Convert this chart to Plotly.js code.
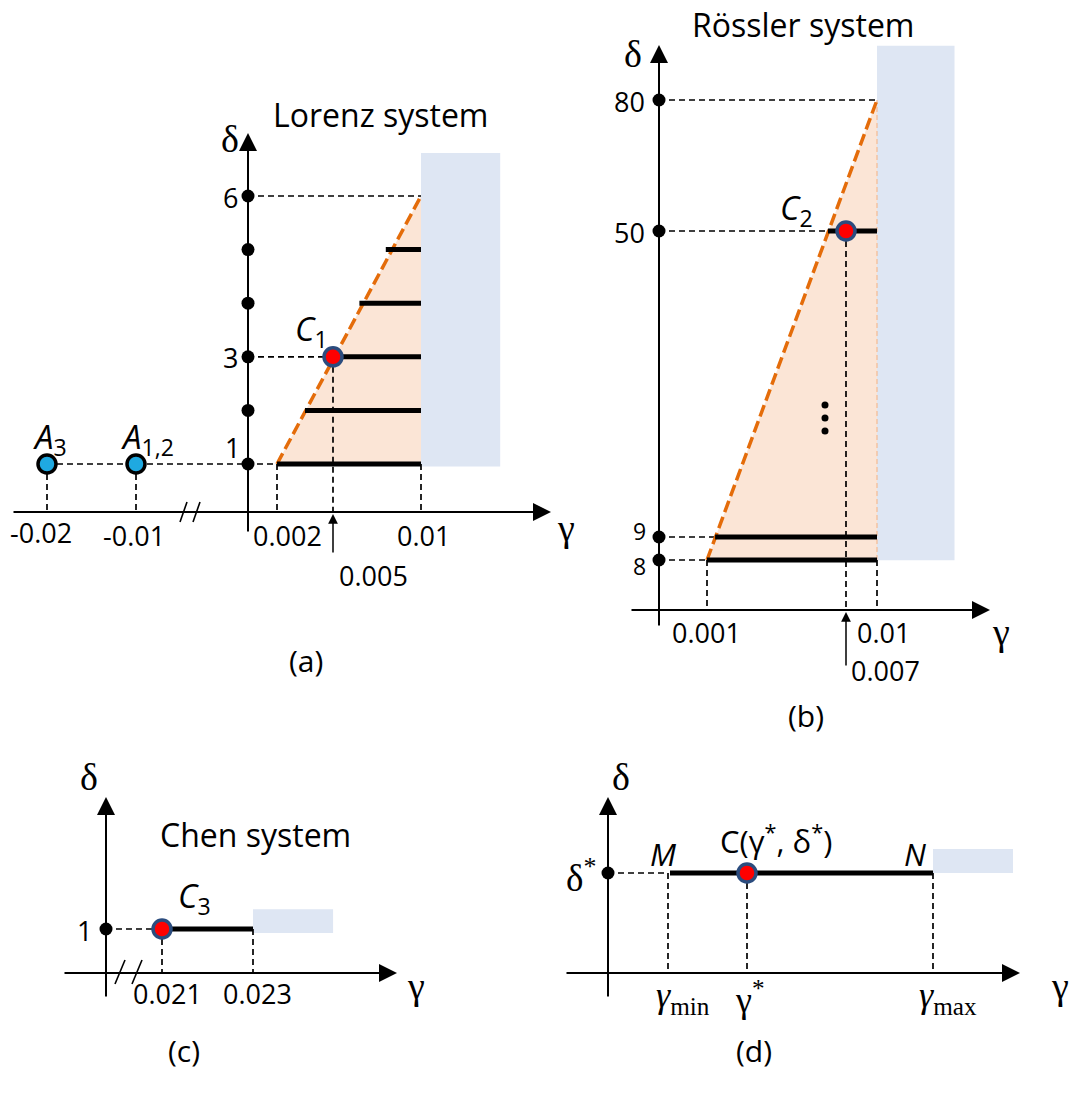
<!DOCTYPE html>
<html><head><meta charset="utf-8">
<script src="https://cdn.plot.ly/plotly-3.0.1.min.js"></script>
<style>html,body{margin:0;padding:0;background:#fff}</style>
</head><body><div id="chart" style="width:1086px;height:1106px"></div>
<script>
// ================= DATA =================
// (a) Lorenz system
const lorenzDeltaDots      = [1, 2, 3, 4, 5, 6];
const lorenzDeltaTicks     = [1, 3, 6];
const lorenzGammaTicks     = [-0.02, -0.01, 0.002, 0.01];
const lorenzGammaMarked    = [0.005];
const lorenzBarDelta       = [1, 2, 3, 4, 5];
const lorenzBarGammaStart  = [0.002, 0.0035, 0.005, 0.0065, 0.008];
const lorenzBarGammaEnd    = [0.01, 0.01, 0.01, 0.01, 0.01];
const lorenzBorderGamma    = [0.002, 0.01];
const lorenzBorderDelta    = [1, 6];
const lorenzEqGamma        = [-0.02, -0.01];
const lorenzEqDelta        = [1, 1];
const lorenzEqLabels       = ['A<sub>3</sub>', 'A<sub>1,2</sub>'];
const lorenzChaosGamma     = [0.005];
const lorenzChaosDelta     = [3];
const lorenzUnstableGamma  = [0.01, 0.0145];
const lorenzUnstableDelta  = [0.95, 6.8];

// (b) Rössler system
const rosslerDeltaTicks    = [8, 9, 50, 80];
const rosslerGammaTicks    = [0.001, 0.01];
const rosslerGammaMarked   = [0.007];
const rosslerBarDelta      = [8, 9, 50];
const rosslerBarGammaStart = [0.001, 0.00135, 0.00622];
const rosslerBarGammaEnd   = [0.01, 0.01, 0.01];
const rosslerBorderGamma   = [0.001, 0.01];
const rosslerBorderDelta   = [8, 80];
const rosslerChaosGamma    = [0.007];
const rosslerChaosDelta    = [50];
const rosslerUnstableGamma = [0.01, 0.0175];
const rosslerUnstableDelta = [7.95, 92.4];

// (c) Chen system
const chenDeltaTicks       = [1];
const chenGammaTicks       = [0.021, 0.023];
const chenBarGamma         = [0.021, 0.023];
const chenBarDelta         = [1];
const chenChaosGamma       = [0.021];
const chenChaosDelta       = [1];
const chenUnstableGamma    = [0.023, 0.02476];
const chenUnstableDelta    = [0.91, 1.45];

// (d) general scheme (symbolic, ordinal positions on the γ axis)
const genGammaOrder        = [1, 2, 3];
const genGammaLabels       = ['<i>γ</i><sub>min</sub>', 'γ<sup>*</sup>', '<i>γ</i><sub>max</sub>'];
const genDeltaTicks        = [1];
const genDeltaLabels       = ['δ<sup>*</sup>'];
const genBarGamma          = [1, 3];
const genChaosGamma        = [2];
const genUnstableGamma     = [3, 3.43];
const genUnstableDelta     = [1, 1.24];

// ================= GEOMETRY (schematic axis scales, px) =================
const GEOM = {
  a: {gv:[-0.02,-0.01,0,0.002,0.005,0.01], gp:[47,136,248,277,333,421], dv:[0,1,6], dp:[512,464,196],
      xAxis:[12,551], yAxis:[533,133], breaks:[[180,522,187,502],[193,522,200,502]]},
  b: {gv:[0,0.001,0.007,0.01], gp:[659,707,846,877], dv:[0,8,9,50,80], dp:[610,560,537,231,100],
      xAxis:[630,990], yAxis:[627,45], breaks:[]},
  c: {gv:[0,0.021,0.023], gp:[106,162,253], dv:[0,1], dp:[973,929],
      xAxis:[63,397], yAxis:[998,797], breaks:[[115,984,125,960],[132,984,142,960]]},
  d: {gv:[0,1,2,3], gp:[608,668,747,933], dv:[0,1], dp:[973,873],
      xAxis:[565,1020], yAxis:[998,797], breaks:[]}
};
const FONT = 'Open Sans, Lato, sans-serif';
const SERIF = 'Liberation Serif, DejaVu Serif, serif';
const ORANGE = '#E46C0A', PEACH = '#FBE5D6', ICE = '#DEE6F3', CYAN = '#1FA9E1', NAVY = '#2B4C7E';

function pw(v, p) {
  return function (x) {
    const n = v.length; let i = 0;
    if (x >= v[n - 1]) i = n - 2;
    else if (x > v[0]) { while (x > v[i + 1]) i++; }
    const t = (x - v[i]) / (v[i + 1] - v[i]);
    return p[i] + t * (p[i + 1] - p[i]);
  };
}
const S = {};
for (const k in GEOM) S[k] = {g: pw(GEOM[k].gv, GEOM[k].gp), d: pw(GEOM[k].dv, GEOM[k].dp)};

const traces = [], ann = [];
function line(xs, ys, color, width, dash) {
  traces.push({type:'scatter', mode:'lines', x:xs, y:ys, hoverinfo:'skip', showlegend:false,
    line:{color:color, width:width, dash:dash || 'solid'}});
}
function poly(xs, ys, color) {
  traces.push({type:'scatter', mode:'lines', x:xs, y:ys, fill:'toself', fillcolor:color, hoverinfo:'skip',
    showlegend:false, line:{width:0, color:color}});
}
function dots(xs, ys, size, color, lc, lw) {
  traces.push({type:'scatter', mode:'markers', x:xs, y:ys, hoverinfo:'skip', showlegend:false,
    marker:{size:size, color:color, line:{color:lc || color, width:lw || 0}}});
}
function txt(x, y, text, size, opt) {
  opt = opt || {};
  ann.push(Object.assign({x:x, y:y, xref:'x', yref:'y', text:text, showarrow:false,
    xanchor:'center', yanchor:'middle', font:{family:opt.family || FONT, size:size, color:'#000'}}, opt.extra || {}));
}
function arrow(x0, y0, x1, y1, w, size) {
  ann.push({x:x1, y:y1, ax:x0, ay:y0, xref:'x', yref:'y', axref:'x', ayref:'y', text:'', showarrow:true,
    arrowhead:2, arrowsize:size, arrowwidth:w, arrowcolor:'#000', standoff:0, startstandoff:0});
}
function axes(k) {
  const G = GEOM[k], s = S[k], y0 = s.d(0), x0 = s.g(0);
  arrow(G.xAxis[0], y0, G.xAxis[1], y0, 2, 1.8);
  arrow(x0, G.yAxis[0], x0, G.yAxis[1], 2, 1.8);
  G.breaks.forEach(b => line([b[0], b[2]], [b[1], b[3]], '#000', 1.6));
}
const DASH = '6px,4px';
const DW = 1.7;

// ---------------- (a) Lorenz ----------------
(function () {
  const g = S.a.g, d = S.a.d;
  poly([g(lorenzBorderGamma[0]), g(lorenzBorderGamma[1]), g(lorenzBorderGamma[1]), g(lorenzBorderGamma[0])],
       [d(lorenzBorderDelta[0]), d(lorenzBorderDelta[1]), d(lorenzBorderDelta[0]), d(lorenzBorderDelta[0])], PEACH);
  poly([g(lorenzUnstableGamma[0]), g(lorenzUnstableGamma[1]), g(lorenzUnstableGamma[1]), g(lorenzUnstableGamma[0]), g(lorenzUnstableGamma[0])],
       [d(lorenzUnstableDelta[0]), d(lorenzUnstableDelta[0]), d(lorenzUnstableDelta[1]), d(lorenzUnstableDelta[1]), d(lorenzUnstableDelta[0])], ICE);
  line([g(0), g(lorenzBorderGamma[1])], [d(6), d(6)], '#000', DW, DASH);
  line([g(0), g(lorenzChaosGamma[0])], [d(lorenzChaosDelta[0]), d(lorenzChaosDelta[0])], '#000', DW, DASH);
  line([g(lorenzEqGamma[0]), g(lorenzBorderGamma[0])], [d(1), d(1)], '#000', DW, DASH);
  lorenzEqGamma.concat([lorenzBorderGamma[0], lorenzBorderGamma[1]]).forEach(v =>
    line([g(v), g(v)], [d(1), d(0)], '#000', DW, DASH));
  line([g(lorenzChaosGamma[0]), g(lorenzChaosGamma[0])], [d(lorenzChaosDelta[0]), d(0)], '#000', DW, DASH);
  line([g(lorenzBorderGamma[0]), g(lorenzBorderGamma[1])], [d(lorenzBorderDelta[0]), d(lorenzBorderDelta[1])], ORANGE, 3.5, '12px,5px');
  lorenzBarDelta.forEach((dv, i) => line([g(lorenzBarGammaStart[i]), g(lorenzBarGammaEnd[i])], [d(dv), d(dv)], '#000', 5));
  axes('a');
  dots(lorenzDeltaDots.map(() => g(0)), lorenzDeltaDots.map(d), 13, '#000');
  dots(lorenzEqGamma.map(g), lorenzEqDelta.map(d), 18, CYAN, '#000', 3.5);
  dots(lorenzChaosGamma.map(g), lorenzChaosDelta.map(d), 18, '#FF0000', NAVY, 3.5);
  txt(380, 114, 'Lorenz system', 32);
  txt(g(0) - 18, 139, 'δ', 38, {family:SERIF});
  const dOff = {1:[-16,-17], 3:[-18,1], 6:[-18,1]};
  lorenzDeltaTicks.forEach(v => txt(g(0) + dOff[v][0], d(v) + dOff[v][1], String(v), 27));
  const gOff = {'-0.02':[-6,20], '-0.01':[-2,23], '0.002':[10,23], '0.01':[2,23]};
  lorenzGammaTicks.forEach(v => txt(g(v) + gOff[String(v)][0], d(0) + gOff[String(v)][1], String(v), 27));
  lorenzGammaMarked.forEach(v => {
    arrow(g(v), d(0) + 42, g(v), d(0) + 2, 1.5, 1.3);
    txt(g(v) + 4, d(0) + 63, String(v), 27, {extra:{xanchor:'left'}});
  });
  txt(g(lorenzChaosGamma[0]) - 22, d(lorenzChaosDelta[0]) - 26, '<i>C</i><sub>1</sub>', 33);
  lorenzEqGamma.forEach((v, i) => txt(g(v) + (i ? 11 : 3), d(1) - 26, '<i>' + lorenzEqLabels[i].replace('<sub>', '</i><sub>'), 33));
  txt(566, 528, 'γ', 38, {family:SERIF});
  txt(306, 660, '(a)', 30);
})();

// ---------------- (b) Rössler ----------------
(function () {
  const g = S.b.g, d = S.b.d;
  poly([g(rosslerBorderGamma[0]), g(rosslerBorderGamma[1]), g(rosslerBorderGamma[1]), g(rosslerBorderGamma[0])],
       [d(rosslerBorderDelta[0]), d(rosslerBorderDelta[1]), d(rosslerBorderDelta[0]), d(rosslerBorderDelta[0])], PEACH);
  poly([g(rosslerUnstableGamma[0]), g(rosslerUnstableGamma[1]), g(rosslerUnstableGamma[1]), g(rosslerUnstableGamma[0]), g(rosslerUnstableGamma[0])],
       [d(rosslerUnstableDelta[0]), d(rosslerUnstableDelta[0]), d(rosslerUnstableDelta[1]), d(rosslerUnstableDelta[1]), d(rosslerUnstableDelta[0])], ICE);
  line([g(rosslerBorderGamma[1]), g(rosslerBorderGamma[1])], [d(rosslerBorderDelta[0]), d(rosslerBorderDelta[1])], '#F4B183', 1, '5px,3px');
  line([g(0), g(rosslerBorderGamma[1])], [d(80), d(80)], '#000', DW, DASH);
  rosslerBarDelta.forEach((dv, i) => line([g(0), g(rosslerBarGammaStart[i])], [d(dv), d(dv)], '#000', DW, DASH));
  rosslerGammaTicks.forEach(v => line([g(v), g(v)], [d(8), d(0)], '#000', DW, DASH));
  line([g(rosslerChaosGamma[0]), g(rosslerChaosGamma[0])], [d(rosslerChaosDelta[0]), d(0)], '#000', DW, DASH);
  line([g(rosslerBorderGamma[0]), g(rosslerBorderGamma[1])], [d(rosslerBorderDelta[0]), d(rosslerBorderDelta[1])], ORANGE, 3.5, '12px,5px');
  rosslerBarDelta.forEach((dv, i) => line([g(rosslerBarGammaStart[i]), g(rosslerBarGammaEnd[i])], [d(dv), d(dv)], '#000', 5));
  axes('b');
  dots(rosslerDeltaTicks.map(() => g(0)), rosslerDeltaTicks.map(d), 13, '#000');
  dots(rosslerChaosGamma.map(g), rosslerChaosDelta.map(d), 18, '#FF0000', NAVY, 3.5);
  txt(803, 24, 'Rössler system', 32);
  txt(g(0) - 26, 54, 'δ', 38, {family:SERIF});
  // tightly stacked labels 9 / 8 are anchored away from each other so their boxes do not overlap
  const yMid = (d(8) + d(9)) / 2;
  rosslerDeltaTicks.forEach(v => {
    if (v === 9) txt(g(0) - 12, yMid - 0.5, String(v), 23, {extra:{xanchor:'right', yanchor:'bottom', borderpad:0}});
    else if (v === 8) txt(g(0) - 12, yMid + 0.5, String(v), 23, {extra:{xanchor:'right', yanchor:'top', borderpad:0}});
    else txt(g(0) - 12, d(v) + 1, String(v), 27, {extra:{xanchor:'right'}});
  });
  const gOff = {'0.001':[-1, 22], '0.01':[6, 22]};
  rosslerGammaTicks.forEach(v => txt(g(v) + gOff[String(v)][0], d(0) + gOff[String(v)][1], String(v), 27));
  rosslerGammaMarked.forEach(v => {
    arrow(g(v), d(0) + 57, g(v), d(0) + 2, 1.5, 1.3);
    txt(g(v) + 3, d(0) + 60, String(v), 27, {extra:{xanchor:'left'}});
  });
  txt(g(rosslerChaosGamma[0]) - 50, d(rosslerChaosDelta[0]) - 22, '<i>C</i><sub>2</sub>', 33);
  [405, 418, 431].forEach(yy => dots([825], [yy], 7, '#000'));
  txt(1001, 632, 'γ', 38, {family:SERIF});
  txt(806, 715, '(b)', 30);
})();

// ---------------- (c) Chen ----------------
(function () {
  const g = S.c.g, d = S.c.d;
  poly([g(chenUnstableGamma[0]), g(chenUnstableGamma[1]), g(chenUnstableGamma[1]), g(chenUnstableGamma[0]), g(chenUnstableGamma[0])],
       [d(chenUnstableDelta[0]), d(chenUnstableDelta[0]), d(chenUnstableDelta[1]), d(chenUnstableDelta[1]), d(chenUnstableDelta[0])], ICE);
  line([g(0), g(chenBarGamma[0])], [d(1), d(1)], '#000', DW, DASH);
  chenGammaTicks.forEach(v => line([g(v), g(v)], [d(1), d(0)], '#000', DW, DASH));
  chenBarDelta.forEach(dv => line([g(chenBarGamma[0]), g(chenBarGamma[1])], [d(dv), d(dv)], '#000', 5));
  axes('c');
  dots(chenDeltaTicks.map(() => g(0)), chenDeltaTicks.map(d), 13, '#000');
  dots(chenChaosGamma.map(g), chenChaosDelta.map(d), 18, '#FF0000', NAVY, 3.5);
  txt(g(0) - 17, 777, 'δ', 38, {family:SERIF});
  txt(255, 834, 'Chen system', 32);
  chenDeltaTicks.forEach(v => txt(g(0) - 12, d(v) + 1, String(v), 27, {extra:{xanchor:'right'}}));
  chenGammaTicks.forEach(v => txt(g(v) + (v === 0.021 ? 5 : 4), d(0) + 20, String(v), 27));
  txt(g(chenChaosGamma[0]) + 32, d(chenChaosDelta[0]) - 32, '<i>C</i><sub>3</sub>', 33);
  txt(416, 986, 'γ', 38, {family:SERIF});
  txt(184, 1050, '(c)', 30);
})();

// ---------------- (d) general ----------------
(function () {
  const g = S.d.g, d = S.d.d;
  poly([g(genUnstableGamma[0]), g(genUnstableGamma[1]), g(genUnstableGamma[1]), g(genUnstableGamma[0]), g(genUnstableGamma[0])],
       [d(genUnstableDelta[0]), d(genUnstableDelta[0]), d(genUnstableDelta[1]), d(genUnstableDelta[1]), d(genUnstableDelta[0])], ICE);
  line([g(0), g(genBarGamma[0])], [d(1), d(1)], '#000', DW, DASH);
  genGammaOrder.forEach(v => line([g(v), g(v)], [d(1), d(0)], '#000', DW, DASH));
  line([g(genBarGamma[0]) + 2, g(genBarGamma[1])], [d(1), d(1)], '#000', 5);
  axes('d');
  dots(genDeltaTicks.map(() => g(0)), genDeltaTicks.map(d), 13, '#000');
  dots(genChaosGamma.map(g), genDeltaTicks.map(d), 18, '#FF0000', NAVY, 3.5);
  txt(g(0) + 13, 777, 'δ', 38, {family:SERIF});
  genDeltaTicks.forEach((v, i) => txt(g(0) - 10, d(v) + 2, genDeltaLabels[i], 37, {family:SERIF, extra:{xanchor:'right'}}));
  genGammaOrder.forEach((v, i) => txt(g(v) + (i === 1 ? 3 : 15), d(0) + 24, genGammaLabels[i], 36, {family:SERIF}));
  txt(g(genBarGamma[0]) - 5, d(1) - 19, '<i>M</i>', 31);
  txt(g(genBarGamma[1]) - 18, d(1) - 19, '<i>N</i>', 31);
  txt(g(genChaosGamma[0]) + 29, d(1) - 34, 'C(γ<sup>*</sup>, δ<sup>*</sup>)', 31);
  txt(1060, 986, 'γ', 38, {family:SERIF});
  txt(754, 1050, '(d)', 30);
})();

const layout = {
  width:1086, height:1106, margin:{l:0, r:0, t:0, b:0},
  paper_bgcolor:'#fff', plot_bgcolor:'#fff', showlegend:false,
  xaxis:{range:[0, 1086], visible:false, fixedrange:true},
  yaxis:{range:[1106, 0], visible:false, fixedrange:true},
  annotations: ann
};
Plotly.newPlot('chart', traces, layout, {staticPlot:true, displayModeBar:false});
</script></body></html>
